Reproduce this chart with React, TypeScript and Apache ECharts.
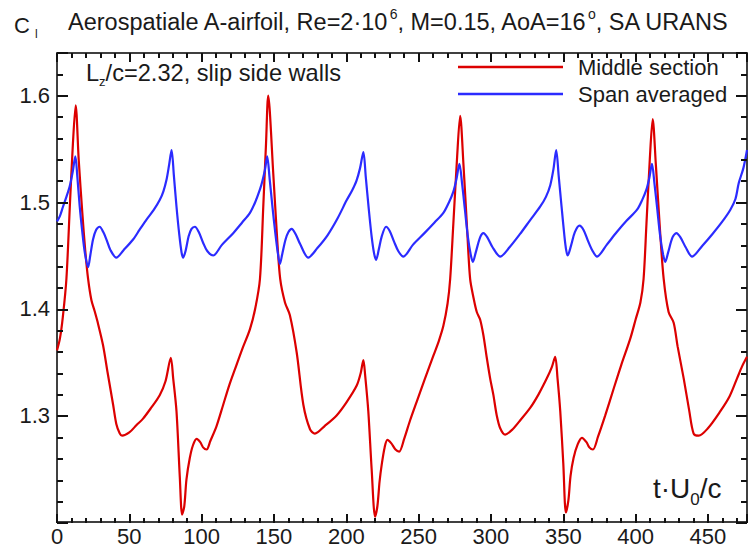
import React, { useEffect, useRef } from "react";
import * as echarts from "echarts";

// t*U0/c versus Cl, middle section (red)
const middleSection: [number, number][] = [
  [0, 1.361], [2, 1.372], [4, 1.392], [6.5, 1.428], [9, 1.5], [11, 1.555], [12.9, 1.591], [15, 1.54], [17.5, 1.49], [19.5, 1.455],
  [21.5, 1.428], [23.8, 1.408], [26, 1.398], [28, 1.388], [31.8, 1.366], [35, 1.34], [38.8, 1.31], [41, 1.292], [43.4, 1.283], [45, 1.281],
  [50, 1.284], [55, 1.291], [59.5, 1.297], [65, 1.307], [71, 1.319], [75, 1.332], [78.7, 1.354], [80.3, 1.335], [82.6, 1.304], [84.9, 1.242],
  [86.5, 1.207], [88, 1.215], [89.5, 1.24], [91.8, 1.26], [94, 1.272], [96.5, 1.278], [99, 1.275], [101, 1.27], [103.4, 1.268], [106, 1.276],
  [110.3, 1.29], [114.9, 1.31], [119, 1.328], [124, 1.347], [128, 1.362], [133.4, 1.381], [137, 1.4], [140.3, 1.428], [142.6, 1.496], [144.5, 1.555],
  [146, 1.6], [149.5, 1.527], [152, 1.47], [154.3, 1.428], [157.6, 1.406], [161, 1.394], [165.7, 1.359], [170.3, 1.31], [174.9, 1.287], [178.3, 1.283],
  [185, 1.29], [193.3, 1.3], [200, 1.312], [207.2, 1.328], [210, 1.34], [211.8, 1.352], [213, 1.338], [215.2, 1.304], [217.5, 1.25], [219.9, 1.205],
  [221.5, 1.215], [223, 1.238], [224.5, 1.254], [226.5, 1.27], [228.4, 1.277], [231, 1.274], [234, 1.268], [236.5, 1.266], [240, 1.278], [244, 1.295],
  [248.7, 1.313], [254, 1.333], [260.2, 1.356], [264, 1.37], [267.1, 1.384], [270, 1.405], [271.8, 1.428], [274, 1.48], [276.5, 1.54], [278.7, 1.581],
  [281, 1.535], [283.5, 1.475], [285.6, 1.428], [288, 1.41], [290.2, 1.397], [292.5, 1.39], [294.8, 1.375], [297, 1.355], [299.4, 1.335], [301.7, 1.319],
  [304, 1.3], [306.4, 1.288], [309.8, 1.282], [315, 1.287], [320, 1.295], [327.1, 1.307], [333, 1.32], [338.7, 1.335], [342, 1.345], [344.4, 1.355],
  [346, 1.335], [347.9, 1.304], [350, 1.255], [351.8, 1.209], [353.5, 1.22], [355, 1.243], [357.1, 1.26], [360, 1.273], [362.9, 1.279], [366, 1.275],
  [368, 1.27], [370.5, 1.268], [374, 1.28], [379, 1.3], [384.8, 1.325], [390, 1.347], [396.3, 1.372], [400, 1.39], [403.3, 1.406], [405.5, 1.428],
  [407.5, 1.48], [409.8, 1.54], [411.8, 1.578], [414, 1.535], [416.8, 1.475], [419.4, 1.428], [422.8, 1.397], [426.3, 1.387], [429, 1.365], [433.2, 1.335],
  [437, 1.305], [440.1, 1.283], [443.6, 1.281], [450, 1.288], [458.6, 1.304], [465, 1.318], [470.2, 1.335], [473.6, 1.346], [477, 1.355],
];

// t*U0/c versus Cl, span averaged (blue)
const spanAveraged: [number, number][] = [
  [0, 1.482], [2, 1.487], [4.2, 1.496], [6.5, 1.505], [8.8, 1.515], [10.8, 1.528], [12.7, 1.543], [14, 1.525], [15.7, 1.496], [17.5, 1.472],
  [19.2, 1.453], [21.5, 1.439], [23, 1.45], [24.9, 1.465], [27, 1.474], [29.5, 1.477], [32, 1.472], [34.2, 1.465], [37, 1.455], [41, 1.448],
  [46, 1.455], [52.6, 1.465], [57, 1.474], [62, 1.484], [67, 1.493], [71, 1.502], [73.5, 1.51], [75.7, 1.521], [77.5, 1.535], [79.2, 1.549],
  [80.8, 1.525], [82.6, 1.496], [84.5, 1.47], [86.1, 1.453], [87.2, 1.448], [89, 1.455], [91, 1.468], [93, 1.475], [95.3, 1.477], [98, 1.472],
  [101, 1.462], [104, 1.454], [108, 1.45], [114, 1.46], [121.8, 1.471], [128, 1.481], [133.4, 1.49], [137, 1.5], [140.3, 1.512], [142, 1.52],
  [143.7, 1.53], [145.3, 1.543], [147, 1.522], [149, 1.495], [151, 1.47], [152.7, 1.452], [154.1, 1.442], [155.8, 1.452], [158, 1.465], [160, 1.472],
  [162.2, 1.475], [165, 1.47], [168, 1.461], [173.7, 1.448], [180, 1.457], [187, 1.469], [194, 1.485], [200.3, 1.502], [204, 1.511], [207, 1.52],
  [209.5, 1.532], [211.8, 1.547], [213.5, 1.523], [215.5, 1.494], [217.5, 1.468], [219.2, 1.452], [220.6, 1.446], [222.5, 1.456], [224.5, 1.468], [227.5, 1.477],
  [230, 1.473], [233, 1.463], [236, 1.454], [239.4, 1.449], [246, 1.46], [254, 1.471], [261, 1.481], [267.1, 1.49], [271, 1.5], [274, 1.51],
  [276.2, 1.522], [278.2, 1.536], [280, 1.518], [282, 1.493], [284, 1.468], [286, 1.451], [287.5, 1.444], [289.5, 1.453], [292.5, 1.467], [294.8, 1.471],
  [297.5, 1.467], [301, 1.458], [306.4, 1.449], [313, 1.458], [320, 1.47], [327, 1.483], [334.1, 1.496], [338, 1.505], [341, 1.516], [343.2, 1.531],
  [345.1, 1.549], [346.8, 1.525], [348.8, 1.496], [350.8, 1.468], [352, 1.455], [353, 1.45], [355.5, 1.46], [358, 1.472], [361.2, 1.478], [364, 1.474],
  [367, 1.464], [370, 1.455], [373.3, 1.449], [380, 1.46], [387, 1.472], [394, 1.483], [401, 1.493], [404.5, 1.502], [407.5, 1.512], [409.5, 1.523],
  [411.3, 1.536], [413, 1.518], [415, 1.493], [417, 1.468], [419, 1.451], [420.5, 1.444], [422.5, 1.453], [425.5, 1.467], [428.2, 1.471], [431, 1.467],
  [434.5, 1.458], [439, 1.449], [446, 1.459], [453, 1.47], [460, 1.482], [465.5, 1.493], [469, 1.503], [471.3, 1.518], [474.5, 1.532], [477, 1.549],
];

const seriesNames = ["Middle section", "Span averaged"];
const xExtent = [0, 477];
const yExtent = [1.2, 1.64];
const xMajorStep = 50;
const xMinorStep = 10;
const yMajorStep = 0.1;
const yMinorStep = 0.02;

const FONT = '"Liberation Sans", Arial, Helvetica, sans-serif';
const TXT = "#1a1a1a";
const RED = "#dc0000";
const BLUE = "#2b2bff";
const GRID = { left: 57, right: 2, top: 53, bottom: 24 };

function xAxisDef(position: string, labels: boolean) {
  return {
    type: "value",
    position,
    min: xExtent[0],
    max: xExtent[1],
    interval: xMajorStep,
    axisLine: { show: true, onZero: false, lineStyle: { color: "#000", width: 1.5 } },
    axisTick: { show: false },
    axisLabel: { show: labels, fontSize: 22, fontFamily: FONT, color: TXT, margin: 3, showMaxLabel: false },
    splitLine: { show: false },
  };
}

function yAxisDef(position: string, labels: boolean) {
  return {
    type: "value",
    position,
    min: yExtent[0],
    max: yExtent[1],
    interval: yMajorStep,
    axisLine: { show: true, onZero: false, lineStyle: { color: "#000", width: 1.5 } },
    axisTick: { show: false },
    axisLabel: {
      show: labels, fontSize: 22, fontFamily: FONT, color: TXT, margin: 7,
      showMinLabel: false, showMaxLabel: false,
      formatter: (v: number) => v.toFixed(1),
    },
    splitLine: { show: false },
  };
}

// tick-only axes for the overlay chart
function tickX(position: string, step: number, len: number) {
  return {
    type: "value", position, min: xExtent[0], max: xExtent[1], interval: step,
    axisLine: { show: false, onZero: false },
    axisTick: { show: true, inside: true, length: len, lineStyle: { color: "#111", width: 2 } },
    axisLabel: { show: false },
    splitLine: { show: false },
  };
}
function tickY(position: string, step: number, len: number) {
  return {
    type: "value", position, min: yExtent[0], max: yExtent[1], interval: step,
    axisLine: { show: false, onZero: false },
    axisTick: { show: true, inside: true, length: len, lineStyle: { color: "#111", width: 2 } },
    axisLabel: { show: false },
    splitLine: { show: false },
  };
}

function richTitle(text: string, left: number, top: number, m: any, s: any) {
  return {
    text,
    left,
    top,
    padding: 0,
    itemGap: 0,
    textStyle: {
      fontWeight: "normal",
      fontFamily: FONT,
      color: TXT,
      rich: {
        m: { fontFamily: FONT, fontWeight: "normal", color: TXT, ...m },
        s: { fontFamily: FONT, fontWeight: "normal", color: TXT, ...s },
      },
    },
  };
}

export default function App() {
  const ref = useRef<HTMLDivElement>(null);
  const tickRef = useRef<HTMLDivElement>(null);
  useEffect(() => {
    const chart = echarts.init(ref.current!, null, { renderer: "svg" });
    const option = {
      animation: false,
      backgroundColor: "#fff",
      grid: GRID,
      title: [
        richTitle(
          "{m|Aerospatiale A-airfoil, Re=2·10}{s|6}{m|, M=0.15, AoA=16}{s|o}{m|, SA URANS}",
          68, 6.5, { fontSize: 23.5 }, { fontSize: 14, padding: [0, 0, 16, 1] }
        ),
        richTitle("{m|C}{s|l}", 14, 11, { fontSize: 22 }, { fontSize: 12, padding: [17, 0, 0, 5] }),
        richTitle(
          "{m|L}{s|z}{m|/c=2.32, slip side walls}",
          86, 58.8, { fontSize: 23.6 }, { fontSize: 13, padding: [16, 0, 0, 0] }
        ),
        richTitle("{m|t·U}{s|0}{m|/c}", 653, 468.5, { fontSize: 28 }, { fontSize: 17, padding: [22, 0, 0, 0] }),
      ],
      xAxis: [xAxisDef("bottom", true), xAxisDef("top", false)],
      yAxis: [yAxisDef("left", true), yAxisDef("right", false)],
      legend: {
        orient: "vertical",
        left: 453,
        top: 51,
        itemWidth: 105,
        itemHeight: 2.5,
        itemGap: 5,
        icon: "rect",
        textStyle: { fontSize: 22, fontFamily: FONT, color: TXT, padding: [0, 0, 0, 10] },
        data: seriesNames,
      },
      series: [
        {
          type: "line",
          name: seriesNames[0],
          data: middleSection,
          symbol: "none",
          showSymbol: false,
          smooth: 0.3,
          lineStyle: { color: RED, width: 2.2 },
          itemStyle: { color: RED },
          z: 3,
        },
        {
          type: "line",
          name: seriesNames[1],
          data: spanAveraged,
          symbol: "none",
          showSymbol: false,
          smooth: 0.3,
          lineStyle: { color: BLUE, width: 2.2 },
          itemStyle: { color: BLUE },
          z: 4,
        },
      ],
    };
    chart.setOption(option as any);

    // overlay chart carrying only the inward tick marks on all four sides
    const ticks = echarts.init(tickRef.current!, null, { renderer: "svg" });
    ticks.setOption({
      animation: false,
      grid: GRID,
      xAxis: [
        tickX("bottom", xMajorStep, 9),
        tickX("bottom", xMinorStep, 5),
        tickX("top", xMajorStep, 9),
        tickX("top", xMinorStep, 5),
      ],
      yAxis: [
        tickY("left", yMajorStep, 11),
        tickY("left", yMinorStep, 6),
        tickY("right", yMajorStep, 11),
        tickY("right", yMinorStep, 6),
      ],
      series: [],
    } as any);

    return () => {
      ticks.dispose();
      chart.dispose();
    };
  }, []);
  return (
    <div style={{ position: "fixed", left: 0, top: 0, width: 749, height: 547, background: "#fff" }}>
      <div ref={ref} style={{ position: "absolute", left: 0, top: 0, width: 749, height: 547 }} />
      <div
        ref={tickRef}
        style={{ position: "absolute", left: 0, top: 0, width: 749, height: 547, pointerEvents: "none" }}
      />
    </div>
  );
}
